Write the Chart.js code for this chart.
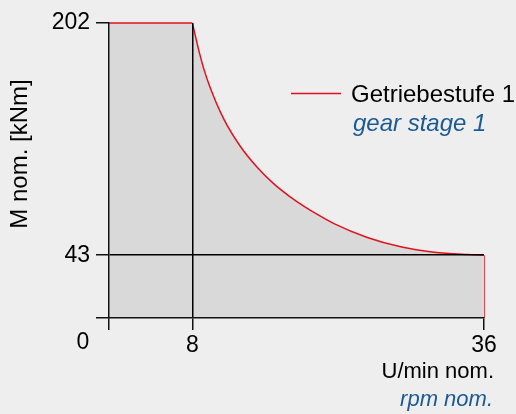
<!DOCTYPE html>
<html>
<head>
<meta charset="utf-8">
<script src="https://cdn.jsdelivr.net/npm/chart.js@4"></script>
<style>
  html, body { margin: 0; padding: 0; background: #eeeeee; }
  canvas { display: block; }
</style>
</head>
<body>
<canvas id="c" width="516" height="414"></canvas>
<script>
// ---- data ----
const rpmFlat = [0, 8];
const torqueFlat = [202, 202];
const rpmCurve = [8, 8.7, 9.1, 9.7, 11, 12.6, 14.2, 15.8, 17.4, 18.4, 19.3, 21.6, 24.8, 28, 31.2, 34.4, 36];
const torqueCurve = [202, 181, 170.6, 158, 136.5, 117.6, 103.4, 92, 82.9, 77.9, 73.85, 64.65, 55.15, 48.75, 45.05, 43.45, 43];
const rpmEdge = [36, 36];
const torqueEdge = [43, 0];
const xTicks = [0, 8, 36];
const yTicks = [0, 43, 202];
const seriesName = 'Getriebestufe 1';
const seriesNameEn = 'gear stage 1';
const yTitle = 'M nom. [kNm]';
const xTitle = 'U/min nom.';
const xTitleEn = 'rpm nom.';

const RED = '#e3101f';
const BLUE = '#1b5a93';
const FILL = '#d9d9d9';
const FONT = '"Liberation Sans", Arial, sans-serif';

const pts = (xs, ys) => xs.map((x, i) => ({ x, y: ys[i] }));

const textPlugin = {
  id: 'texts',
  afterDraw(chart) {
    const ctx = chart.ctx;
    const xs = chart.scales.x;
    ctx.save();
    // y title
    ctx.font = '24px ' + FONT;
    ctx.fillStyle = '#000';
    ctx.translate(20, 154);
    ctx.rotate(-Math.PI / 2);
    ctx.textAlign = 'center';
    ctx.textBaseline = 'middle';
    ctx.fillText(yTitle, 0, 0);
    ctx.restore();

    ctx.save();
    // origin label
    ctx.font = '23px ' + FONT;
    ctx.fillStyle = '#000';
    ctx.textAlign = 'center';
    ctx.textBaseline = 'middle';
    ctx.fillText(String(xTicks[0]), xs.getPixelForValue(xTicks[0]) - 26, 343);

    // legend
    ctx.strokeStyle = RED;
    ctx.lineWidth = 1.5;
    ctx.beginPath();
    ctx.moveTo(291, 93.5);
    ctx.lineTo(341, 93.5);
    ctx.stroke();
    ctx.textAlign = 'left';
    ctx.textBaseline = 'alphabetic';
    ctx.fillStyle = '#000';
    ctx.font = '24px ' + FONT;
    ctx.fillText(seriesName, 351, 101.5);
    ctx.fillStyle = BLUE;
    ctx.font = 'italic 24px ' + FONT;
    ctx.fillText(seriesNameEn, 353, 130.5);

    // x title
    ctx.textAlign = 'right';
    ctx.fillStyle = '#000';
    ctx.font = '22px ' + FONT;
    ctx.fillText(xTitle, 494, 378);
    ctx.fillStyle = BLUE;
    ctx.font = 'italic 22px ' + FONT;
    ctx.fillText(xTitleEn, 493, 406);
    ctx.restore();
  }
};

new Chart(document.getElementById('c'), {
  type: 'line',
  data: {
    datasets: [
      { data: pts(rpmFlat, torqueFlat), borderColor: RED, borderWidth: 1.5, backgroundColor: FILL, fill: 'origin', pointRadius: 0, tension: 0, clip: false },
      { data: pts(rpmCurve, torqueCurve), borderColor: RED, borderWidth: 1.5, backgroundColor: FILL, fill: 'origin', pointRadius: 0, cubicInterpolationMode: 'monotone', clip: false },
      { data: pts(rpmEdge, torqueEdge), borderColor: RED, borderWidth: 1.5, fill: false, pointRadius: 0, tension: 0, clip: false }
    ]
  },
  options: {
    responsive: false,
    devicePixelRatio: 1,
    animation: false,
    layout: { padding: { left: 0, top: 23, right: 32, bottom: 0 } },
    plugins: { legend: { display: false }, tooltip: { enabled: false } },
    scales: {
      x: {
        type: 'linear',
        min: 0, max: 36,
        afterFit(s) { s.height = 96; },
        afterBuildTicks(s) { s.ticks = xTicks.map(v => ({ value: v })); },
        ticks: {
          font: { family: FONT, size: 23 },
          color: '#000',
          padding: 2,
          maxRotation: 0,
          autoSkip: false,
          callback: (v) => v === 0 ? '' : String(v)
        },
        grid: {
          z: 1,
          color: (c) => (c.tick && c.tick.value === 8) ? '#000' : 'rgba(0,0,0,0)',
          tickColor: '#111',
          tickLength: 12,
          lineWidth: 1.5
        },
        border: { z: 1, color: '#111', width: 1.5 }
      },
      y: {
        type: 'linear',
        min: 0, max: 202,
        afterFit(s) { s.width = 109; },
        afterBuildTicks(s) { s.ticks = yTicks.map(v => ({ value: v })); },
        ticks: {
          font: { family: FONT, size: 23 },
          color: '#000',
          padding: 6,
          autoSkip: false,
          callback: (v) => v === 0 ? '' : String(v)
        },
        grid: {
          z: 1,
          color: (c) => (c.tick && c.tick.value === 43) ? '#000' : 'rgba(0,0,0,0)',
          tickColor: '#111',
          tickLength: 13,
          lineWidth: 1.5
        },
        border: { z: 1, color: '#111', width: 1.5 }
      }
    }
  },
  plugins: [textPlugin]
});
</script>
</body>
</html>
